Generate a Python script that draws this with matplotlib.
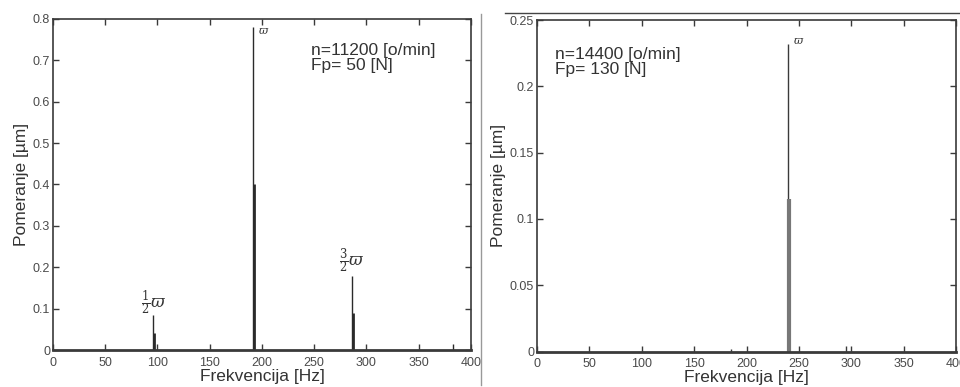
import matplotlib.pyplot as plt
from matplotlib.lines import Line2D

plt.rcParams['font.family'] = ['Liberation Sans', 'DejaVu Sans']
plt.rcParams['mathtext.fontset'] = 'dejavuserif'

# left spectrum: n=11200 o/min, Fp=50 N
left_freq = [95.5, 96.5, 191.0, 192.0, 286.5, 287.5, 382.5]
left_amp = [0.085, 0.042, 0.78, 0.40, 0.18, 0.09, 0.015]
left_bold = [False, True, False, True, False, True, False]

# right spectrum: n=14400 o/min, Fp=130 N
right_freq = [185.0, 239.3, 240.3, 295.0]
right_amp = [0.002, 0.232, 0.115, 0.004]
right_bold = [False, False, True, False]

left_yticks = [0, 0.1, 0.2, 0.3, 0.4, 0.5, 0.6, 0.7, 0.8]
right_yticks = [0, 0.05, 0.1, 0.15, 0.2, 0.25]
xticks = [0, 50, 100, 150, 200, 250, 300, 350, 400]

frame = '#3a3a3a'
tick_col = '#4a4a4a'

fig = plt.figure(figsize=(9.6, 3.87), dpi=100)
ax1 = fig.add_axes([0.0552, 0.0956, 0.4354, 0.8554])
ax2 = fig.add_axes([0.5594, 0.0917, 0.4366, 0.8566])


def style(ax, ymax, yticks):
    ax.set_xlim(0, 400)
    ax.set_ylim(0, ymax)
    ax.set_xticks(xticks)
    ax.set_yticks(yticks)
    ax.set_yticklabels([f'{t:g}' for t in yticks])
    ax.tick_params(direction='in', top=True, right=True, length=4, width=1,
                   color=frame, labelsize=9, labelcolor=tick_col)
    ax.tick_params(axis='x', pad=5)
    ax.tick_params(axis='y', pad=2)
    for s in ax.spines.values():
        s.set_color(frame)
        s.set_linewidth(1.2)
    ax.spines['bottom'].set_linewidth(2)
    ax.set_xlabel('Frekvencija [Hz]', fontsize=12.5, color='#333333', labelpad=0)
    ax.set_ylabel('Pomeranje [µm]', fontsize=12.5, color='#333333', labelpad=3)


for f, a, b in zip(left_freq, left_amp, left_bold):
    ax1.vlines(f, 0, a, color='#2a2a2a', lw=2.0 if b else 1.0)
style(ax1, 0.8, left_yticks)
ax1.text(196, 0.77, r'$\varpi$', fontsize=8, color='#333333', va='center')
ax1.text(84, 0.115, r'$\frac{1}{2}\varpi$', fontsize=12, color='#333333', va='center')
ax1.text(274, 0.215, r'$\frac{3}{2}\varpi$', fontsize=12, color='#333333', va='center')
ax1.text(247, 0.742, 'n=11200 [o/min]\nFp= 50 [N]', fontsize=12.5, color='#333333',
         va='top', linespacing=1.0)

for f, a, b in zip(right_freq, right_amp, right_bold):
    ax2.vlines(f, 0, a, color='#777777' if b else '#3a3a3a', lw=3.0 if b else 1.0)
style(ax2, 0.25, right_yticks)
ax2.text(244, 0.234, r'$\varpi$', fontsize=8, color='#333333', va='center')
ax2.text(17, 0.23, 'n=14400 [o/min]\nFp= 130 [N]', fontsize=12.5, color='#333333',
         va='top', linespacing=1.0)

# scan leftovers: separator and table rule
fig.add_artist(Line2D([481 / 960, 481 / 960], [1 - 14 / 387, 1 - 385 / 387],
                      color='#999999', lw=1, transform=fig.transFigure))
fig.add_artist(Line2D([505 / 960, 1.0], [1 - 13 / 387, 1 - 13 / 387],
                      color='#444444', lw=1, transform=fig.transFigure))

fig.savefig('out.png', dpi=100)
